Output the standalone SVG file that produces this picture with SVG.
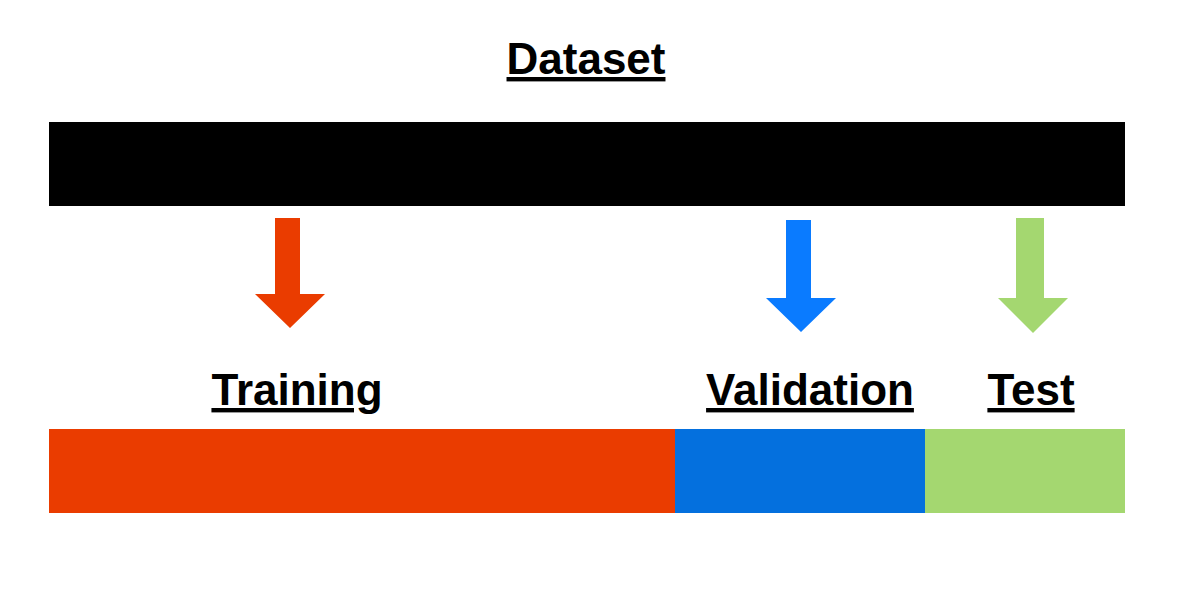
<svg xmlns="http://www.w3.org/2000/svg" width="1200" height="600" viewBox="0 0 1200 600">
<style>
.t{font-family:"Liberation Sans",Arial,sans-serif;font-weight:bold;font-size:44px;text-anchor:middle;text-decoration:underline;fill:#000}
</style>
<rect width="1200" height="600" fill="#fff"/>
<g id="dataset"><text class="t" x="586" y="74">Dataset</text><rect x="49" y="122" width="1076" height="84" fill="#000"/></g>
<g id="connectors">
<polygon points="275,218 300,218 300,294 325,294 290,328 255,294 275,294" fill="#EA3C00"/>
<polygon points="786,220 811,220 811,298 836,298 801,332 766,298 786,298" fill="#0A7BFF"/>
<polygon points="1016,218 1044,218 1044,298 1068,298 1033,333 998,298 1016,298" fill="#A4D770"/>
</g>
<g id="training"><text class="t" x="297" y="405">Training</text><rect x="49" y="429" width="626" height="84" fill="#EA3C00"/></g>
<g id="validation"><text class="t" x="810" y="405">Validation</text><rect x="675" y="429" width="250" height="84" fill="#0470DE"/></g>
<g id="test"><text class="t" x="1031" y="405">Test</text><rect x="925" y="429" width="200" height="84" fill="#A4D770"/></g>
</svg>
